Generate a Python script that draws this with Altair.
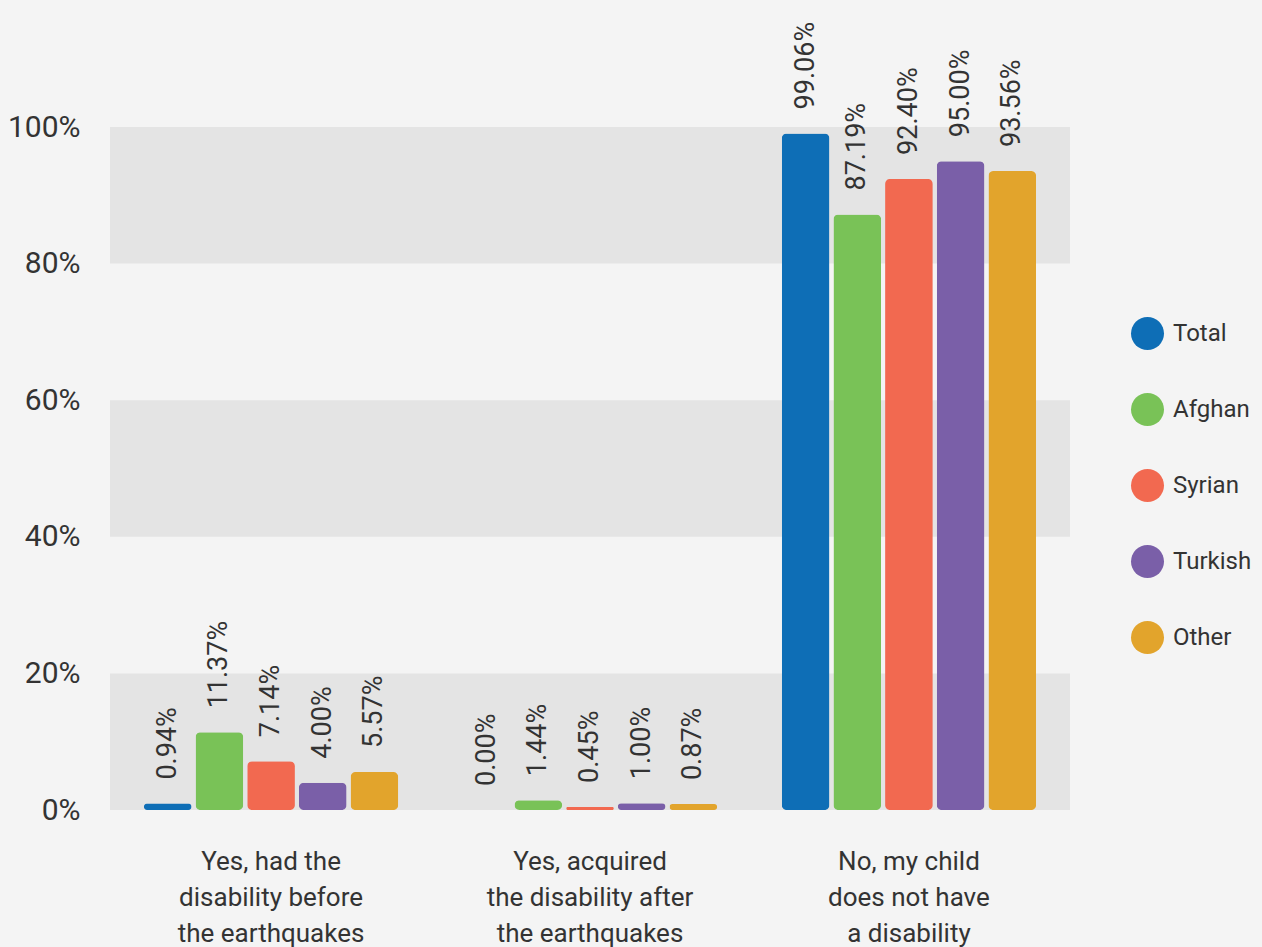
import altair as alt
import pandas as pd

categories = [
    "Yes, had the\ndisability before\nthe earthquakes",
    "Yes, acquired\nthe disability after\nthe earthquakes",
    "No, my child\ndoes not have\na disability",
]
groups = ["Total", "Afghan", "Syrian", "Turkish", "Other"]
colors = ["#0e6eb6", "#79c257", "#f26950", "#7a5fa8", "#e2a42c"]

total = [0.94, 0.00, 99.06]
afghan = [11.37, 1.44, 87.19]
syrian = [7.14, 0.45, 92.40]
turkish = [4.00, 1.00, 95.00]
other = [5.57, 0.87, 93.56]

band_lo = [0, 40, 80]
band_hi = [20, 60, 100]

series = [total, afghan, syrian, turkish, other]
rows = []
for g, vals in zip(groups, series):
    for c, v in zip(categories, vals):
        rows.append({"category": c, "group": g, "value": v})
df = pd.DataFrame(rows)
bands = pd.DataFrame({"lo": band_lo, "hi": band_hi})

FONT = "Roboto"
TXT = "#333333"

yscale = alt.Scale(domain=[0, 100], nice=False)
xenc = alt.X(
    "category:N",
    sort=categories,
    scale=alt.Scale(paddingInner=0.19, paddingOuter=0.1),
    axis=alt.Axis(
        title=None,
        labelAngle=0,
        labelExpr="split(datum.label, '\\n')",
        labelFontSize=26,
        labelFont=FONT,
        labelColor=TXT,
        labelLineHeight=36,
        labelPadding=38,
        labelLimit=0,
        labelBaseline="top",
        domain=False,
        ticks=False,
    ),
)
xoff = alt.XOffset("group:N", sort=groups, scale=alt.Scale(paddingInner=0.077, paddingOuter=0.0385))

bg = alt.Chart(bands).mark_rect(color="#e4e4e4").encode(
    x=alt.value(0),
    x2=alt.value(960),
    y=alt.Y("lo:Q", scale=yscale),
    y2="hi:Q",
)

bars = alt.Chart(df).mark_bar(cornerRadius=5).encode(
    x=xenc,
    xOffset=xoff,
    y=alt.Y(
        "value:Q",
        scale=yscale,
        axis=alt.Axis(
            title=None,
            values=[0, 20, 40, 60, 80, 100],
            labelExpr="datum.value + '%'",
            labelFontSize=30,
            labelFont=FONT,
            labelColor=TXT,
            labelPadding=30,
            grid=False,
            domain=False,
            ticks=False,
        ),
    ),
    color=alt.Color(
        "group:N",
        sort=groups,
        scale=alt.Scale(domain=groups, range=colors),
        legend=alt.Legend(
            title=None,
            orient="none",
            legendX=1021,
            legendY=190,
            symbolType="circle",
            symbolSize=1089,
            symbolStrokeWidth=0,
            labelFontSize=24,
            labelFont=FONT,
            labelColor=TXT,
            labelOffset=9,
            rowPadding=43,
        ),
    ),
)

labels = alt.Chart(df).transform_calculate(
    lab="format(datum.value, '.2f') + '%'"
).mark_text(
    angle=270, align="left", baseline="middle", dx=24, fontSize=27, font=FONT, color=TXT
).encode(
    x=xenc,
    xOffset=xoff,
    y=alt.Y("value:Q", scale=yscale),
    text="lab:N",
)

chart = alt.layer(bg, bars, labels).properties(
    width=960,
    height=683,
    background="#f4f4f4",
    padding={"left": 110, "top": 127, "right": 192, "bottom": 137},
    autosize=alt.AutoSizeParams(type="none"),
).configure_view(stroke=None)

chart.save("out.html", embed_options={"renderer": "svg", "actions": False})
